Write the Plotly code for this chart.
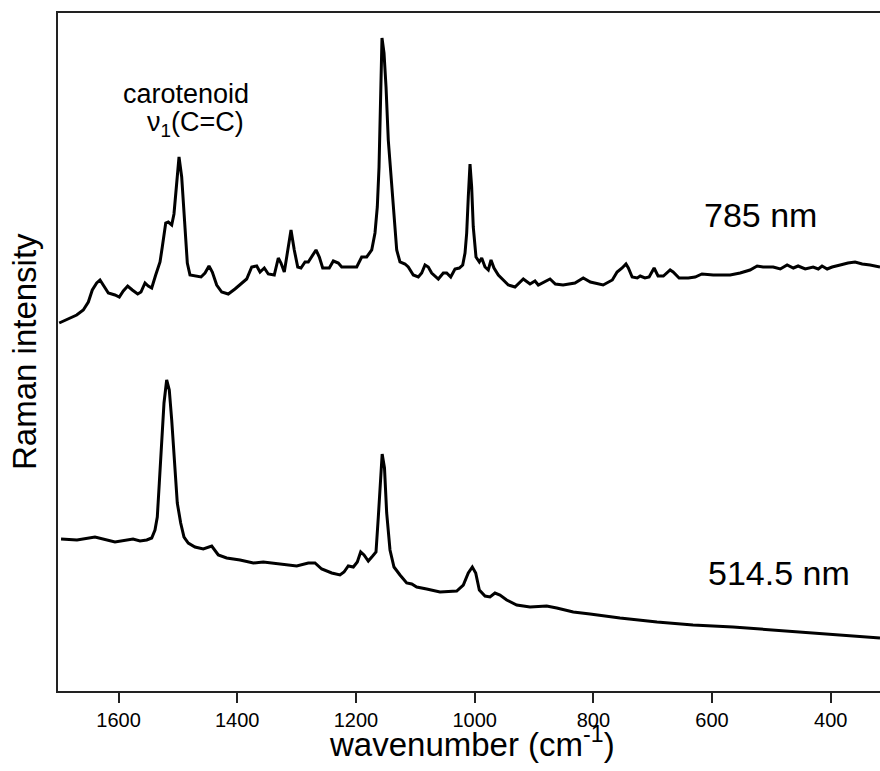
import plotly.graph_objects as go

# ---- data (arbitrary intensity units) ----
wn_785 = [1700, 1684.6, 1670.5, 1659.4, 1650.9, 1644.2, 1636.8, 1631.2, 1625.7, 1617.2, 1606,
          1598.7, 1592, 1584.6, 1576.8, 1567.7, 1562.2, 1555.4, 1549.9, 1544.1, 1537.4, 1530.1,
          1526.3, 1520.5, 1516.2, 1510.4, 1506.6, 1502, 1498.1, 1493.6, 1488, 1484.1, 1479.6,
          1471.2, 1461, 1454.3, 1447.6, 1442, 1434.6, 1426.2, 1415.1, 1403.8, 1392.5, 1384.1,
          1375.6, 1367.2, 1361.6, 1354.4, 1347.7, 1337.6, 1330.8, 1326.3, 1320.7, 1315, 1309.4,
          1303.9, 1298.1, 1292.6, 1285.8, 1280.3, 1272.9, 1267.3, 1261.7, 1256, 1244.9, 1238.1,
          1229.7, 1224, 1198.7, 1190.3, 1181.9, 1173.4, 1167.9, 1164, 1161.1, 1159, 1156.1,
          1152.7, 1149.3, 1145.5, 1140.9, 1137, 1131.3, 1125.8, 1117.3, 1111.8, 1103.4, 1094.9,
          1089.2, 1083.6, 1078.1, 1072.4, 1061.2, 1052.8, 1047.1, 1040.3, 1033.1, 1025.8,
          1020.1, 1016.2, 1013.4, 1010.7, 1007.8, 1005, 1002.3, 997.7, 992.1, 988.1, 982.5,
          977, 972.4, 967.4, 960.1, 951.7, 943.3, 932, 918, 906.7, 898.3, 892.7, 881.4, 873,
          864, 851, 831, 817, 805, 783.5, 768, 760, 751.5, 745, 741, 734.6,
          726, 721, 713, 706, 697.6, 691, 682, 670.6, 665.6, 655.5, 640, 628.5, 617, 598,
          569.5, 552.7, 536, 524, 514, 497, 485, 473.5, 463, 455, 443, 429.7, 421, 414.6, 406,
          397.7, 384, 371, 359, 347, 333.7, 317]
int_785 = [368, 372, 376, 381, 389, 401, 408, 411, 406, 398, 396,
           394, 400, 405, 401, 397, 399, 408, 405, 403, 416, 429,
           444, 468, 469, 466, 477, 511, 534, 514, 464, 428, 416,
           415, 414, 418, 425, 419, 406, 399, 397, 402, 408, 412,
           424, 425, 419, 423, 417, 416, 433, 428, 419, 441, 461,
           441, 424, 423, 429, 429, 436, 441, 434, 423, 423, 430,
           428, 424, 424, 434, 434, 441, 458, 484, 524, 588, 653,
           638, 604, 551, 514, 478, 441, 429, 427, 424, 416, 414,
           418, 426, 424, 418, 412, 418, 418, 414, 422, 423,
           426, 438, 458, 494, 527, 504, 464, 434, 429, 433, 424,
           421, 431, 423, 416, 411, 406, 404, 412, 407, 410, 406, 409, 412,
           407, 406, 408, 413, 409, 406, 411, 419, 423, 427, 423, 414,
           413, 415, 413, 414, 423, 415, 415, 421, 419, 413, 413, 414, 417, 416,
           416, 418, 421, 425, 424, 424, 422, 426, 423, 425, 422, 424, 422, 425,
           422, 424, 426, 428, 429, 427, 426, 424]

wn_514 = [1696.9, 1670, 1639.7, 1606, 1575.6, 1563.8, 1552.5, 1544.1, 1538.6, 1534.7, 1531.3,
          1527.3, 1523.4, 1518.9, 1514.5, 1510.4, 1506, 1501, 1495.3, 1489.7, 1482.5, 1471.2,
          1457.2, 1448.8, 1443, 1431.9, 1417.8, 1395.3, 1372.9, 1356.1, 1328, 1299.8, 1280.3,
          1269, 1257.7, 1240.8, 1226.9, 1220.1, 1212.9, 1204.4, 1197.7, 1192, 1186.4, 1179.2,
          1171.8, 1166.2, 1162.3, 1158.3, 1155.8, 1151.9, 1148.2, 1142.6, 1135.9, 1125.8,
          1114.5, 1106, 1097.6, 1080.8, 1058.4, 1030.2, 1019.1, 1010.7, 1003.9, 998.2, 992.1,
          982.5, 974.1, 965.7, 957.3, 946, 929.1, 906.7, 878.6, 861.7, 833.8, 805.6, 755.1,
          692.7, 632.1, 564.7, 497.3, 429.9, 384.4, 350.7, 317]
int_514 = [152, 151, 154, 149, 152, 150, 151, 153, 161, 174, 208,
           248, 288, 311, 301, 271, 231, 188, 168, 154, 148, 144,
           142, 144, 145, 136, 133, 131, 128, 129, 127, 125, 128,
           128, 122, 118, 116, 119, 125, 124, 129, 139, 136, 130,
           135, 139, 174, 214, 237, 223, 178, 141, 124, 116,
           108, 107, 104, 102, 99, 100, 106, 118, 124, 118, 101,
           95, 94, 98, 96, 91, 86, 84, 85, 83, 79, 77, 73,
           69, 66, 64, 61, 58, 56, 54, 53]

tick_vals = [1600, 1400, 1200, 1000, 800, 600, 400]
labels = ["carotenoid", "ν<sub>1</sub>(C=C)", "785 nm", "514.5 nm"]

FONT = "Liberation Sans, Arial, sans-serif"

fig = go.Figure()
fig.add_trace(go.Scatter(x=wn_785, y=int_785, mode="lines",
                         line=dict(color="black", width=3), showlegend=False))
fig.add_trace(go.Scatter(x=wn_514, y=int_514, mode="lines",
                         line=dict(color="black", width=3), showlegend=False))

fig.update_layout(
    width=880, height=771,
    margin=dict(l=58, r=0, t=13, b=80),
    paper_bgcolor="white", plot_bgcolor="white",
    font=dict(family=FONT, color="black"),
    xaxis=dict(range=[1702, 317], tickvals=tick_vals, ticks="outside", ticklen=10,
               tickwidth=2, tickcolor="#222", showline=True, linecolor="#222", linewidth=2,
               mirror=True, showgrid=False, zeroline=False,
               tickfont=dict(size=20, family=FONT, color="black")),
    yaxis=dict(range=[0, 678], showticklabels=False, ticks="", showline=True,
               linecolor="#222", linewidth=2, showgrid=False, zeroline=False),
    annotations=[
        dict(x=1486.8, y=597, xref="x", yref="y", text=labels[0], showarrow=False,
             font=dict(size=27, family=FONT), xanchor="center", yanchor="middle"),
        dict(x=1471, y=567, xref="x", yref="y", text=labels[1], showarrow=False,
             font=dict(size=27, family=FONT), xanchor="center", yanchor="middle"),
        dict(x=519, y=476, xref="x", yref="y", text=labels[2], showarrow=False,
             font=dict(size=34, family=FONT), xanchor="center", yanchor="middle"),
        dict(x=487, y=118, xref="x", yref="y", text=labels[3], showarrow=False,
             font=dict(size=34, family=FONT), xanchor="center", yanchor="middle"),
        dict(x=0.5, y=0, xref="paper", yref="paper", yshift=-51, xshift=3,
             text="wavenumber (cm<sup>-1</sup>)", showarrow=False,
             font=dict(size=33, family=FONT), xanchor="center", yanchor="middle"),
        dict(x=0, y=0.5, xref="paper", yref="paper", xshift=-34,
             text="Raman intensity", textangle=-90, showarrow=False,
             font=dict(size=33, family=FONT), xanchor="center", yanchor="middle"),
    ],
)

fig.write_html("out.html")
